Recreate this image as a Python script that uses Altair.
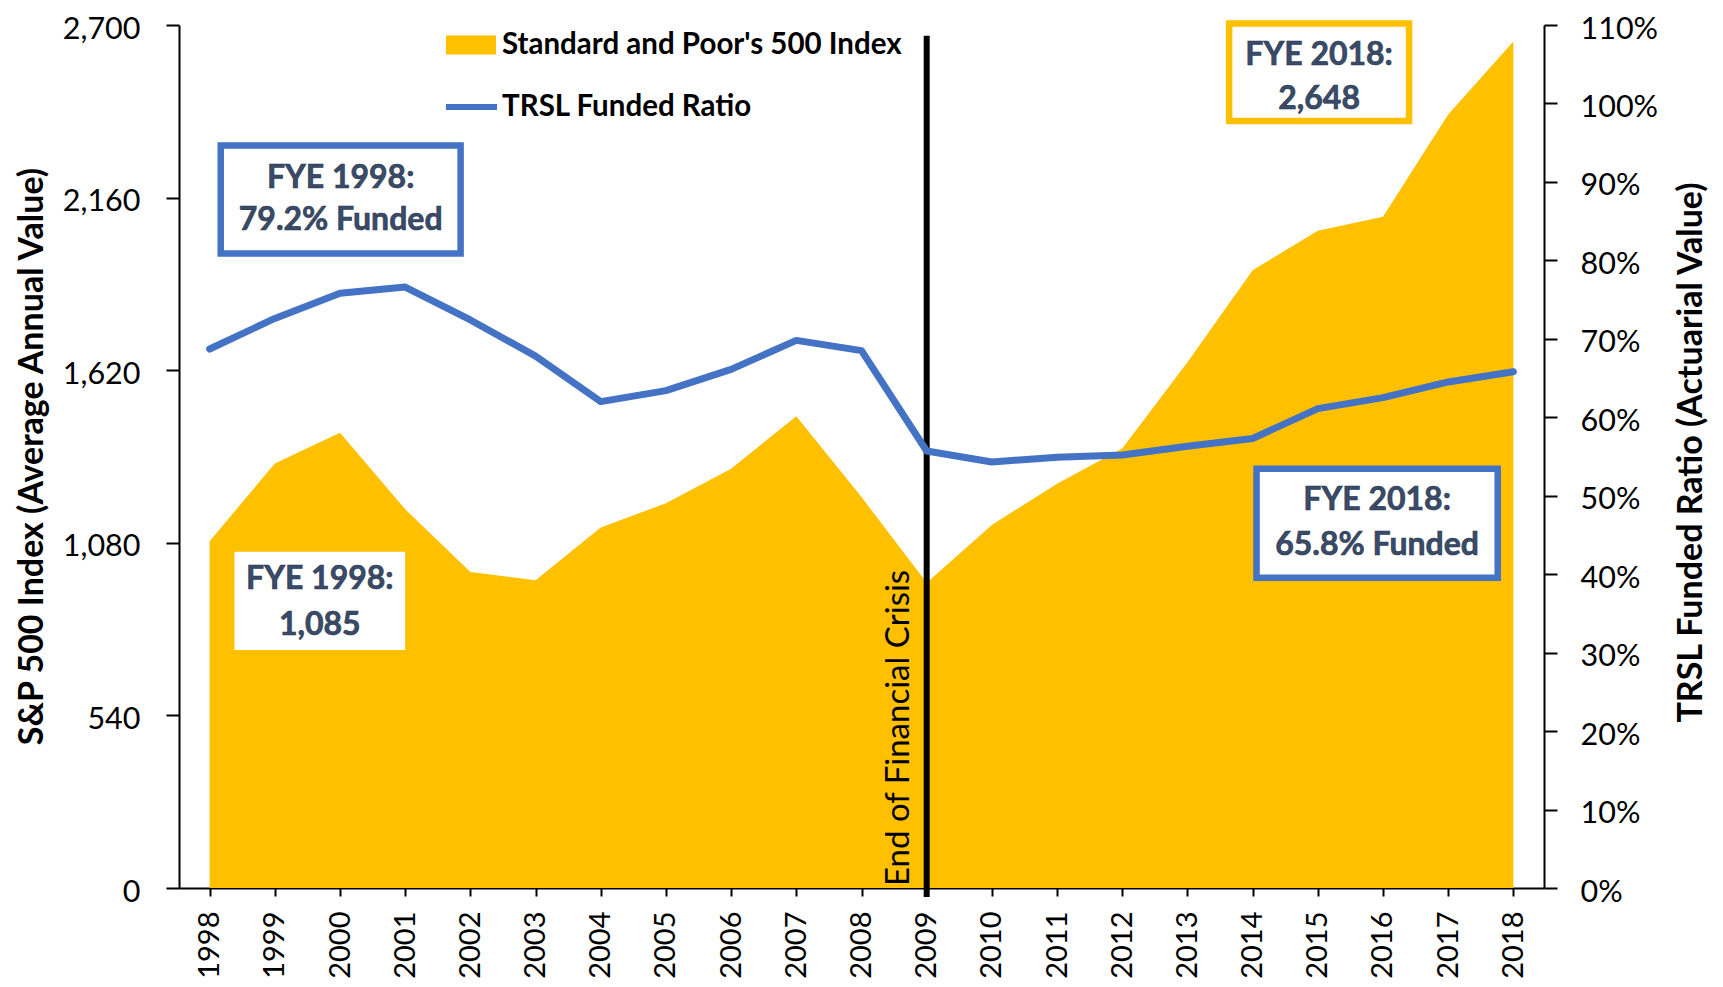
import altair as alt
import pandas as pd

# ---------------- data ----------------
years = list(range(1998, 2019))
sp500 = [1085, 1328, 1424, 1185, 989, 963, 1128, 1204, 1312, 1476, 1223,
         955, 1136, 1265, 1375, 1645, 1933, 2056, 2100, 2420, 2648]
funded = [68.7, 72.6, 75.8, 76.6, 72.4, 67.8, 62.0, 63.4, 66.1, 69.8, 68.5,
          55.7, 54.3, 54.9, 55.2, 56.3, 57.3, 61.1, 62.5, 64.5, 65.8]
sp_ticks = [0, 540, 1080, 1620, 2160, 2700]
pct_ticks = list(range(0, 111, 10))
crisis_year = [2009]
crisis_label = ["End of Financial Crisis"]
sp_name = "Standard and Poor's 500 Index"
fr_name = "TRSL Funded Ratio"

# annotation boxes (in data units: years / S&P index)
box_x1 = [1998.17, 2013.64, 2014.06]
box_x2 = [2001.85, 2016.40, 2017.76]
box_y1 = [1985, 2400, 971]
box_y2 = [2323, 2705, 1312]
box_col = ["#4472C4", "#FFC000", "#4472C4"]
white_x1, white_x2, white_y1, white_y2 = [1998.38], [2001.0], [745], [1052]

note_text = ["FYE 1998:", "79.2% Funded", "FYE 1998:", "1,085",
             "FYE 2018:", "2,648", "FYE 2018:", "65.8% Funded"]
note_x = [2000.01, 2000.01, 1999.69, 1999.69, 2015.02, 2015.02, 2015.91, 2015.91]
note_y = [2221, 2090, 966, 823, 2606, 2468, 1214, 1073]

FONT = "Lato"
BLUE = "#4472C4"
GOLD = "#FFC000"
TXT = "#3A4B68"

df = pd.DataFrame({"year": years, "sp": sp500, "funded": funded,
                   "sp_series": sp_name, "fr_series": fr_name})
boxes = pd.DataFrame({"x1": box_x1, "x2": box_x2, "y1": box_y1, "y2": box_y2, "c": box_col})
white = pd.DataFrame({"x1": white_x1, "x2": white_x2, "y1": white_y1, "y2": white_y2})
notes = pd.DataFrame({"t": note_text, "x": note_x, "y": note_y})
crisis = pd.DataFrame({"year": crisis_year, "label": crisis_label, "top": [2666], "bottom": [0]})


def xs():
    return alt.Scale(domain=[1997.53, 2018.47], nice=False, zero=False)


def ys():
    return alt.Scale(domain=[0, 2700], nice=False, zero=False)


x_axis = alt.Axis(values=years, format="d", labelAngle=270, labelAlign="right",
                  labelBaseline="middle", labelFont=FONT, labelFontSize=29,
                  labelColor="black", labelPadding=15, tickSize=8, tickColor="black",
                  tickWidth=2, domainColor="black", domainWidth=2, grid=False,
                  title=None, labelOverlap=False, labelFlush=False)

y_axis = alt.Axis(values=sp_ticks, format=",.0f", labelFont=FONT, labelFontSize=30.5,
                  labelColor="black", labelPadding=26, tickSize=13, tickColor="black",
                  tickWidth=2, domainColor="black", domainWidth=2, grid=False,
                  labelFlush=False, labelOffset=4,
                  title="S&P 500 Index (Average Annual Value)", titleFont=FONT,
                  titleFontSize=34, titleFontWeight="bold", titleColor="black",
                  titleAngle=270, titleX=-147, titleY=431, titleBaseline="middle",
                  titleAlign="center")

y2_axis = alt.Axis(orient="right", values=pct_ticks, labelExpr="datum.value + '%'",
                   labelFont=FONT, labelFontSize=30.5, labelColor="black", labelPadding=23,
                   tickSize=13, tickColor="black", tickWidth=2, domainColor="black",
                   domainWidth=2, grid=False, labelFlush=False, labelOffset=4,
                   title="TRSL Funded Ratio (Actuarial Value)", titleFont=FONT,
                   titleFontSize=34, titleFontWeight="bold", titleColor="black",
                   titleAngle=270, titleX=147, titleY=427, titleBaseline="middle",
                   titleAlign="center")

legend_common = dict(orient="none", title=None, labelFont=FONT, labelFontSize=29.5,
                     labelFontWeight="bold", labelColor="black",
                     padding=0, labelLimit=0)


def X(field):
    return alt.X(field, scale=xs(), axis=x_axis)


area = alt.Chart(df).mark_area(interpolate="linear").encode(
    x=X("year:Q"),
    y=alt.Y("sp:Q", scale=ys(), axis=y_axis),
    fill=alt.Fill("sp_series:N", scale=alt.Scale(domain=[sp_name], range=[GOLD]),
                  legend=alt.Legend(legendX=267, legendY=-5, labelOffset=6,
                                    symbolType="M-1,-0.38H1V0.38H-1Z", symbolSize=2500,
                                    symbolStrokeWidth=0, **legend_common)),
)

white_box = alt.Chart(white).mark_rect(fill="white").encode(
    x=X("x1:Q"), x2="x2:Q",
    y=alt.Y("y1:Q", scale=ys(), axis=None), y2="y2:Q",
)

rule = alt.Chart(crisis).mark_rule(color="black", strokeWidth=6).encode(
    x=X("year:Q"),
    y=alt.Y("top:Q", scale=ys(), axis=None),
    y2=alt.value(872),
)

crisis_text = alt.Chart(crisis).mark_text(
    angle=270, align="left", baseline="middle", dy=-28, dx=2,
    font=FONT, fontSize=33, color="black"
).encode(
    x=X("year:Q"),
    y=alt.Y("bottom:Q", scale=ys(), axis=None),
    text="label:N",
)

box_marks = alt.Chart(boxes).mark_rect(fill="white", strokeWidth=6.5).encode(
    x=X("x1:Q"), x2="x2:Q",
    y=alt.Y("y1:Q", scale=ys(), axis=None), y2="y2:Q",
    stroke=alt.Stroke("c:N", scale=None, legend=None),
)

note_marks = alt.Chart(notes).mark_text(
    font=FONT, fontSize=32, fontWeight="bold", color=TXT, align="center",
    baseline="middle", stroke="#26344d", strokeWidth=0.6
).encode(
    x=X("x:Q"),
    y=alt.Y("y:Q", scale=ys(), axis=None),
    text="t:N",
)

line = alt.Chart(df).mark_line(strokeWidth=7, strokeCap="round", strokeJoin="round").encode(
    x=X("year:Q"),
    y=alt.Y("funded:Q", scale=alt.Scale(domain=[0, 110], nice=False, zero=False), axis=y2_axis),
    stroke=alt.Stroke("fr_series:N", scale=alt.Scale(domain=[fr_name], range=[BLUE]),
                      legend=alt.Legend(legendX=264, legendY=53.5, labelOffset=2,
                                        symbolType="stroke", symbolSize=2601,
                                        symbolStrokeWidth=6, **legend_common)),
)

chart = alt.layer(area, white_box, rule, crisis_text, box_marks, note_marks, line).resolve_scale(
    y="independent", fill="independent", stroke="independent"
).properties(
    width=1365, height=863,
    autosize=alt.AutoSizeParams(type="none"),
    padding={"left": 171, "top": 17, "right": 170, "bottom": 91},
).configure_view(stroke=None)

chart.save("out.html", embed_options={"renderer": "svg", "actions": False})
